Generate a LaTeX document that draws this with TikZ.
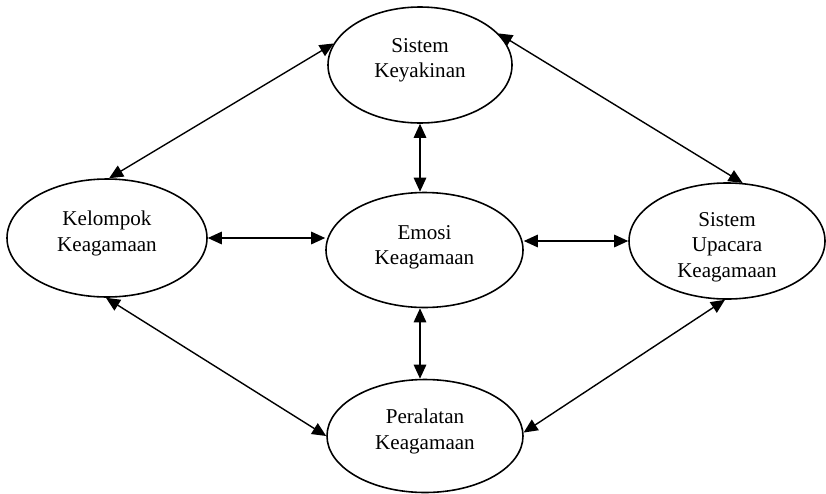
\documentclass[tikz,border=0pt]{standalone}
\usepackage{fontspec}
\setmainfont{Liberation Serif}
\usepackage{tikz}
\usetikzlibrary{shapes,arrows.meta}

\begin{document}
\begin{tikzpicture}[
		unsur/.style={ellipse, draw, line width=0.9pt, align=center, inner sep=0pt, font=\fontsize{12}{14.5}\selectfont},
		naik/.style={text depth=0.28cm},
		hubung/.style={{Triangle[length=2.8mm,width=2.5mm]}-{Triangle[length=2.8mm,width=2.5mm]}, line width=0.8pt}
	]
		\useasboundingbox (0,0) rectangle (16.52,9.86);
		
		\node [unsur, naik, minimum width=3.68cm, minimum height=2.32cm] (keyakinan) at (8.4,8.56) {Sistem\\Keyakinan};
		
		\node [unsur, naik, minimum width=4cm, minimum height=2.36cm] (kelompok) at (2.14,5.1) {Kelompok\\Keagamaan};
		
		\node [unsur, minimum width=3.94cm, minimum height=2.3cm, text depth=0.2cm] (emosi) at (8.49,4.86) {Emosi\\Keagamaan};
		
		\node [unsur, minimum width=3.92cm, minimum height=2.32cm, text height=1.55cm] (upacara) at (14.54,5.04) {Sistem\\Upacara\\Keagamaan};
		
		\node [unsur, naik, minimum width=3.92cm, minimum height=2.26cm] (peralatan) at (8.5,1.14) {Peralatan\\Keagamaan};
		
		
		\draw [hubung] (kelompok.east) -- (kelompok.east -| emosi.west);
		\draw [hubung] (emosi.east |- upacara.west) -- (upacara.west);
		
		\draw [hubung] (keyakinan.south) -- (keyakinan.south |- emosi.north);
		\draw [hubung] (keyakinan.south |- emosi.south) -- (keyakinan.south |- peralatan.north);
		
		\draw [hubung] (kelompok.88) -- (keyakinan.166);
		\draw [hubung] (keyakinan.22) -- (upacara.75);
		\draw [hubung] (kelompok.269) -- (peralatan.180);
		\draw [hubung] (upacara.268) -- (peralatan.2);
		
	\end{tikzpicture}
\end{document}
